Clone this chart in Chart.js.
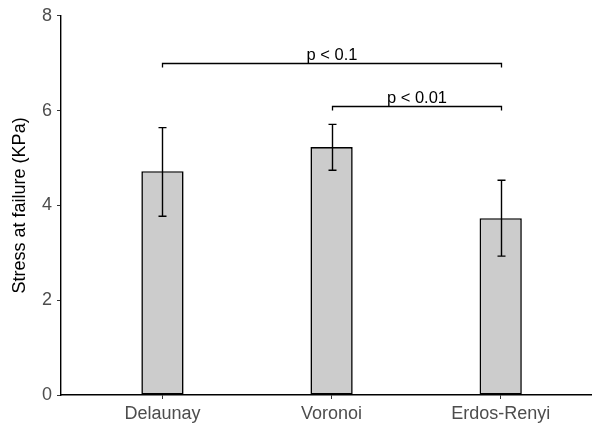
<!DOCTYPE html>
<html>
<head>
<meta charset="utf-8">
<script src="https://cdn.jsdelivr.net/npm/chart.js@4/dist/chart.umd.min.js"></script>
<style>
  html, body { margin: 0; padding: 0; background: #fff; }
  #wrap { width: 592px; height: 427px; }
</style>
</head>
<body>
<div id="wrap"><canvas id="c" width="592" height="427"></canvas></div>
<script>
const categories = ['Delaunay', 'Voronoi', 'Erdos-Renyi'];
const means = [4.72, 5.23, 3.73];
const errLow = [3.77, 4.74, 2.93];
const errHigh = [5.64, 5.71, 4.53];
const yTicks = [0, 2, 4, 6, 8];
const bracketFrom = [0, 1];
const bracketTo = [2, 2];
const bracketY = [7.0, 6.1];
const bracketLabels = ['p < 0.1', 'p < 0.01'];

const FONT = "'Liberation Sans', Arial, Helvetica, sans-serif";

const overlay = {
  id: 'overlay',
  afterDatasetsDraw(chart) {
    const ctx = chart.ctx;
    const xs = chart.scales.x, ys = chart.scales.y;
    ctx.save();
    // error bars
    ctx.strokeStyle = '#000';
    ctx.lineWidth = 1.4;
    for (let i = 0; i < categories.length; i++) {
      const x = Math.round(xs.getPixelForValue(i)) + 0.5;
      const yl = ys.getPixelForValue(errLow[i]);
      const yh = ys.getPixelForValue(errHigh[i]);
      ctx.beginPath();
      ctx.moveTo(x, yl); ctx.lineTo(x, yh);
      ctx.moveTo(x - 4, yl); ctx.lineTo(x + 4, yl);
      ctx.moveTo(x - 4, yh); ctx.lineTo(x + 4, yh);
      ctx.stroke();
    }
    // significance brackets
    ctx.lineWidth = 1.3;
    ctx.fillStyle = '#000';
    ctx.font = '16.5px ' + FONT;
    ctx.textAlign = 'center';
    ctx.textBaseline = 'alphabetic';
    for (let k = 0; k < bracketLabels.length; k++) {
      const x1 = Math.round(xs.getPixelForValue(bracketFrom[k])) + 0.5;
      const x2 = Math.round(xs.getPixelForValue(bracketTo[k])) + 0.5;
      const y = Math.round(ys.getPixelForValue(bracketY[k])) + 0.5;
      ctx.beginPath();
      ctx.moveTo(x1, y + 4); ctx.lineTo(x1, y); ctx.lineTo(x2, y); ctx.lineTo(x2, y + 4);
      ctx.stroke();
      ctx.fillText(bracketLabels[k], (x1 + x2) / 2, y - 4);
    }
    ctx.restore();
  }
};

new Chart(document.getElementById('c'), {
  type: 'bar',
  data: {
    datasets: [{
      data: means.map((v, i) => ({ x: i, y: v })),
      backgroundColor: '#cccccc',
      borderColor: '#000',
      borderWidth: 1.6,
      borderSkipped: false,
      barPercentage: 0.25,
      categoryPercentage: 1.0
    }]
  },
  options: {
    responsive: false,
    animation: false,
    devicePixelRatio: 1,
    layout: { padding: { top: 15, right: 0, left: 0, bottom: 0 } },
    plugins: { legend: { display: false }, tooltip: { enabled: false } },
    scales: {
      x: {
        type: 'linear',
        min: -0.6,
        max: 2.54,
        offset: false,
        afterBuildTicks(scale) { scale.ticks = categories.map((c, i) => ({ value: i })); },
        afterFit(scale) { scale.height = 32; },
        ticks: {
          autoSkip: false,
          maxRotation: 0,
          padding: 4,
          color: '#4d4d4d',
          font: { family: FONT, size: 18 },
          callback: (v) => categories[v]
        },
        grid: { display: true, drawOnChartArea: false, drawTicks: true, tickLength: 4, color: '#333', lineWidth: 1, offset: false },
        border: { display: true, color: '#000', width: 1.4 }
      },
      y: {
        min: 0,
        max: 8,
        afterBuildTicks(scale) { scale.ticks = yTicks.map(v => ({ value: v })); },
        afterFit(scale) { scale.width = 61; },
        ticks: {
          padding: 5,
          color: '#4d4d4d',
          font: { family: FONT, size: 18 }
        },
        title: {
          display: true,
          text: 'Stress at failure (KPa)',
          color: '#000',
          font: { family: FONT, size: 18 },
          padding: { top: 9, bottom: 0 }
        },
        grid: { display: true, drawOnChartArea: false, drawTicks: true, tickLength: 4, color: '#333', lineWidth: 1 },
        border: { display: true, color: '#000', width: 1.4 }
      }
    }
  },
  plugins: [overlay]
});
</script>
</body>
</html>
